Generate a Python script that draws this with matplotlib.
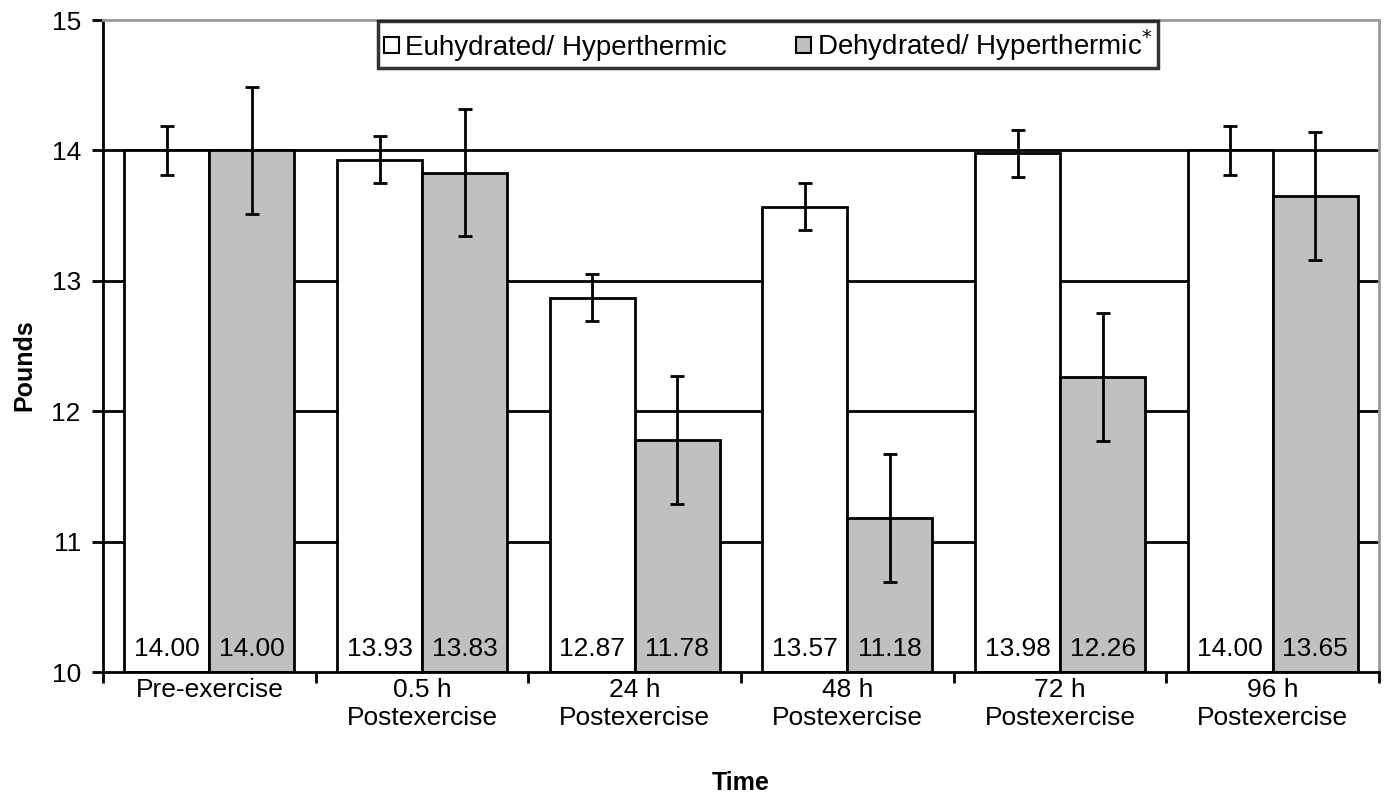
import matplotlib
matplotlib.use('Agg')
import matplotlib.pyplot as plt
import numpy as np

categories = ['Pre-exercise', '0.5 h\nPostexercise', '24 h\nPostexercise',
              '48 h\nPostexercise', '72 h\nPostexercise', '96 h\nPostexercise']
euhydrated = [14.00, 13.93, 12.87, 13.57, 13.98, 14.00]
dehydrated = [14.00, 13.83, 11.78, 11.18, 12.26, 13.65]
euhydrated_err = [0.19, 0.18, 0.18, 0.18, 0.18, 0.19]
dehydrated_err = [0.49, 0.49, 0.49, 0.49, 0.49, 0.49]

plt.rcParams['font.family'] = ['Liberation Sans', 'DejaVu Sans']

fig = plt.figure(figsize=(13.85, 7.95), dpi=100)
ax = fig.add_axes([0.0744, 0.1547, 0.9213, 0.8201])

x = np.arange(len(categories))
w = 0.4
base = 10
ax.bar(x - w / 2, np.array(euhydrated) - base, w, bottom=base, color='white',
       edgecolor='black', linewidth=2, zorder=2, label='Euhydrated/ Hyperthermic')
ax.bar(x + w / 2, np.array(dehydrated) - base, w, bottom=base, color='#c0c0c0',
       edgecolor='black', linewidth=2, zorder=2, label='Dehydrated/ Hyperthermic$^{*}$')
ax.errorbar(x - w / 2, euhydrated, yerr=euhydrated_err, fmt='none', ecolor='black',
            elinewidth=2, capsize=5, capthick=2, zorder=3)
ax.errorbar(x + w / 2, dehydrated, yerr=dehydrated_err, fmt='none', ecolor='black',
            elinewidth=2, capsize=5, capthick=2, zorder=3)

for i in range(len(categories)):
    ax.text(x[i] - w / 2, 10.18, f'{euhydrated[i]:.2f}', ha='center', va='center',
            fontsize=19, zorder=4)
    ax.text(x[i] + w / 2, 10.18, f'{dehydrated[i]:.2f}', ha='center', va='center',
            fontsize=19, zorder=4)

ax.set_xlim(-0.5, len(categories) - 0.5)
ax.set_ylim(10, 15)
ax.set_yticks([10, 11, 12, 13, 14, 15])
for yv in [11, 12, 13, 14]:
    ax.axhline(yv, color='black', linewidth=2, zorder=1)

ax.set_xticks(x)
ax.set_xticklabels(categories, fontsize=19, linespacing=1.25)
ax.set_xticks(np.arange(len(categories) + 1) - 0.5, minor=True)
ax.tick_params(axis='x', which='major', length=0, pad=4)
ax.tick_params(axis='x', which='minor', length=8, width=2, direction='out')
ax.tick_params(axis='y', labelsize=19, length=8, width=2, direction='out', pad=8)

for s in ['left', 'bottom']:
    ax.spines[s].set_linewidth(2)
    ax.spines[s].set_color('black')
for s in ['top', 'right']:
    ax.spines[s].set_linewidth(2)
    ax.spines[s].set_color('#999999')

ax.set_ylabel('Pounds', fontsize=18, fontweight='bold', va='center')
ax.yaxis.set_label_coords(-0.062, 0.47)
ax.set_xlabel('Time', fontsize=18, fontweight='bold', va='center')
ax.xaxis.set_label_coords(0.5, -0.17)

leg = ax.legend(loc='upper center', bbox_to_anchor=(0.521, 1.0), ncol=2, fontsize=20,
                frameon=True, fancybox=False, edgecolor='black', handlelength=0.55,
                handleheight=0.55, handletextpad=0.2, columnspacing=2.5,
                borderpad=0.2, borderaxespad=0.05)
leg.get_frame().set_linewidth(2.5)
for h in leg.legend_handles:
    h.set_linewidth(1.5)
leg.set_zorder(5)

fig.savefig('out.png', dpi=100)
